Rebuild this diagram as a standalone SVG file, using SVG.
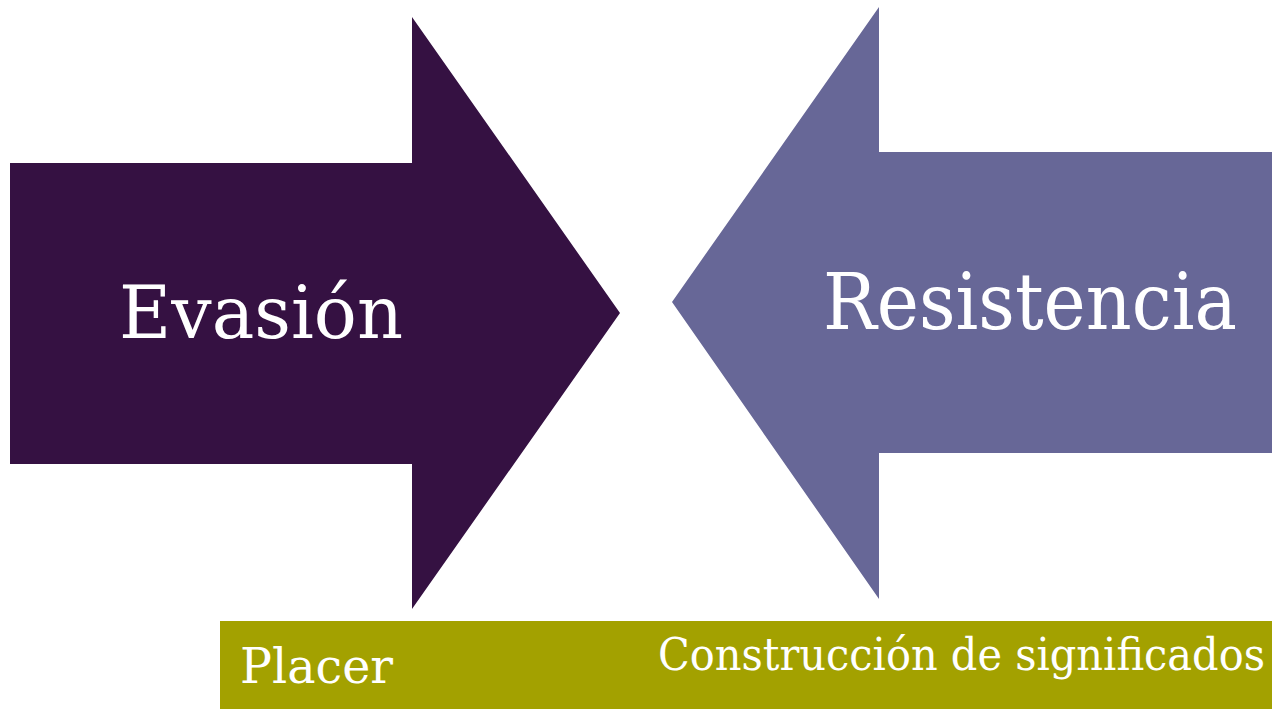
<svg xmlns="http://www.w3.org/2000/svg" width="1272" height="709" viewBox="0 0 1272 709">
<style>
.lbl{font-family:"DejaVu Serif","Liberation Serif",serif;fill:#ffffff}
</style>
<rect width="1272" height="709" fill="#ffffff"/>
<g id="evasion">
<polygon points="10,163 412,163 412,17 620,313 412,609 412,464 10,464" fill="#351142"/>
<text class="lbl" x="119" y="338" font-size="72" textLength="284" lengthAdjust="spacingAndGlyphs">Evasión</text>
</g>
<g id="resistencia">
<polygon points="1272,152 879,152 879,7 672,302 879,599 879,453 1272,453" fill="#676797"/>
<text class="lbl" x="823" y="329" font-size="78" textLength="414" lengthAdjust="spacingAndGlyphs">Resistencia</text>
</g>
<g id="bar">
<rect x="220" y="621" width="1052" height="88" fill="#a3a100"/>
<text class="lbl" x="240" y="683" font-size="48" textLength="153" lengthAdjust="spacingAndGlyphs">Placer</text>
<text class="lbl" x="658" y="670" font-size="45" textLength="607" lengthAdjust="spacingAndGlyphs">Construcción de significados</text>
</g>
<g id="connectors"/>
</svg>
